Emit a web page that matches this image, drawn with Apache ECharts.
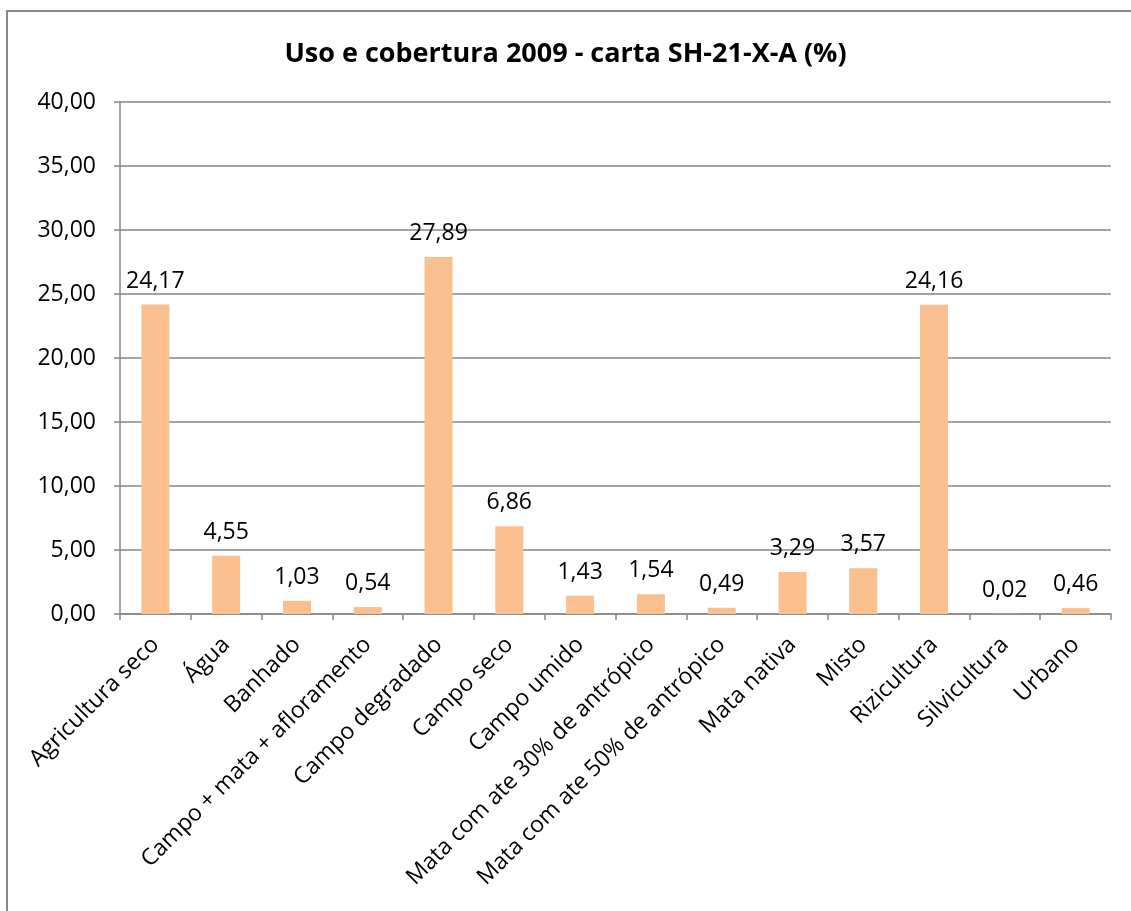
<!DOCTYPE html>
<html>
<head>
<meta charset="utf-8">
<script src="https://cdn.jsdelivr.net/npm/echarts@6/dist/echarts.min.js"></script>
<style>
    html, body { margin: 0; padding: 0; background: #fff; }
    #chart { width: 1131px; height: 911px; }
</style>
</head>
<body>
<div id="chart"></div>
<script>
// dados da carta SH-21-X-A
var categorias = ['Agricultura seco', 'Água', 'Banhado', 'Campo + mata + afloramento',
    'Campo degradado', 'Campo seco', 'Campo umido', 'Mata com ate 30% de antrópico',
    'Mata com ate 50% de antrópico', 'Mata nativa', 'Misto', 'Rizicultura', 'Silvicultura', 'Urbano'];
var percentuais = [24.17, 4.55, 1.03, 0.54, 27.89, 6.86, 1.43, 1.54, 0.49, 3.29, 3.57, 24.16, 0.02, 0.46];
var eixoY = { min: 0, max: 40, interval: 5 };

var COR_BARRA = '#FAC090';
var COR_LINHA = '#868686';
var FONTE = '"Open Sans", "Noto Sans", sans-serif';

function virgula(v) {
    return Number(v).toFixed(2).replace('.', ',');
}

var chart = echarts.init(document.getElementById('chart'));
chart.setOption({
    animation: false,
    textStyle: { fontFamily: FONTE },
    title: {
        text: 'Uso e cobertura 2009 - carta SH-21-X-A (%)',
        left: 'center',
        top: 36,
        textStyle: { fontSize: 27, fontWeight: 'bold', color: '#000', fontFamily: FONTE }
    },
    graphic: [{
        type: 'rect',
        shape: { x: 7, y: 11, width: 1200, height: 1000 },
        style: { fill: 'none', stroke: COR_LINHA, lineWidth: 2 },
        z: -1
    }],
    grid: { left: 120, right: 20, top: 102, bottom: 297 },
    xAxis: {
        type: 'category',
        data: categorias,
        axisLine: { lineStyle: { color: COR_LINHA, width: 1.5 } },
        axisTick: { show: true, length: 6, alignWithLabel: false, lineStyle: { color: COR_LINHA, width: 1.5 } },
        axisLabel: {
            interval: 0,
            rotate: 45,
            fontSize: 23,
            color: '#000',
            margin: 27,
            fontFamily: FONTE
        }
    },
    yAxis: {
        type: 'value',
        min: eixoY.min,
        max: eixoY.max,
        interval: eixoY.interval,
        axisLine: { show: true, lineStyle: { color: COR_LINHA, width: 1.5 } },
        axisTick: { show: true, length: 6, lineStyle: { color: COR_LINHA, width: 1.5 } },
        splitLine: { lineStyle: { color: COR_LINHA, width: 1.5 } },
        axisLabel: {
            fontSize: 23,
            color: '#000',
            margin: 24,
            formatter: virgula,
            fontFamily: FONTE
        }
    },
    series: [{
        type: 'bar',
        data: percentuais,
        barWidth: 28,
        itemStyle: { color: COR_BARRA },
        label: {
            show: true,
            position: 'top',
            distance: 12,
            fontSize: 23,
            color: '#000',
            formatter: function (p) { return virgula(p.value); }
        }
    }]
});
</script>
</body>
</html>
